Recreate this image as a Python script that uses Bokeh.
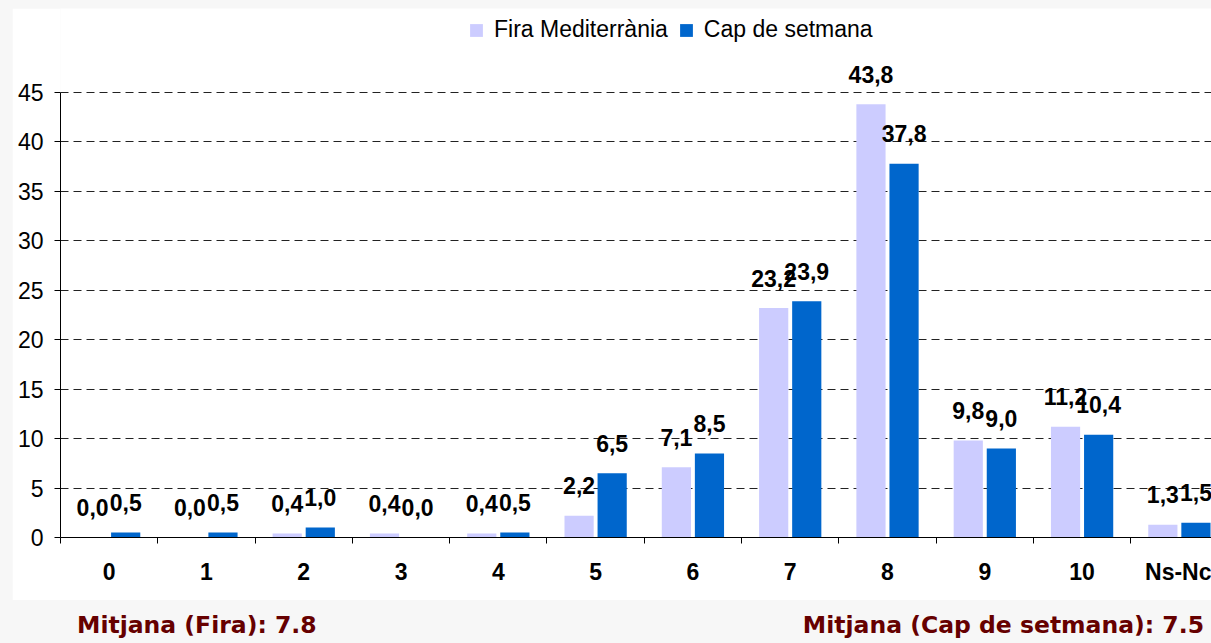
from bokeh.plotting import figure
from bokeh.models import (ColumnDataSource, Range1d, FixedTicker, Legend, LegendItem, Div)
from bokeh.layouts import column
from bokeh.transform import dodge
from bokeh.core.properties import value
from bokeh.embed import file_html
from bokeh.resources import INLINE

categories = ["0", "1", "2", "3", "4", "5", "6", "7", "8", "9", "10", "Ns-Nc"]
fira = [0.0, 0.0, 0.4, 0.4, 0.4, 2.2, 7.1, 23.2, 43.8, 9.8, 11.2, 1.3]
cap = [0.5, 0.5, 1.0, 0.0, 0.5, 6.5, 8.5, 23.9, 37.8, 9.0, 10.4, 1.5]
series_names = ["Fira Mediterrània", "Cap de setmana"]
y_ticks = [0, 5, 10, 15, 20, 25, 30, 35, 40, 45]
mean_fira = "7.8"
mean_cap = "7.5"

FIRA_COLOR = "#ccccff"
CAP_COLOR = "#0066cc"
FONT = "Liberation Sans"

idx = list(range(len(categories)))
src = ColumnDataSource(dict(
    x=idx,
    fira=fira,
    cap=cap,
    fira_lbl=[f"{v:.1f}".replace(".", ",") for v in fira],
    cap_lbl=[f"{v:.1f}".replace(".", ",") for v in cap],
))

p = figure(width=1199, height=592, output_backend="svg", toolbar_location=None,
           x_range=Range1d(-0.5, 11.33), y_range=Range1d(0, 53.49),
           min_border_left=48, min_border_right=0, min_border_top=0, min_border_bottom=63)
p.margin = (8, 0, 0, 12)
p.outline_line_color = None
p.background_fill_color = "white"
p.border_fill_color = "white"

off = 0.17
r1 = p.vbar(x=dodge("x", -off, range=p.x_range), top="fira", width=0.3, source=src,
            fill_color=FIRA_COLOR, line_color=None)
r2 = p.vbar(x=dodge("x", off, range=p.x_range), top="cap", width=0.3, source=src,
            fill_color=CAP_COLOR, line_color=None)

for col, o in (("fira_lbl", -off), ("cap_lbl", off)):
    p.text(x=dodge("x", o, range=p.x_range), y=col.replace("_lbl", ""), text=col, source=src,
           text_align="center", text_baseline="alphabetic", y_offset=-30,
           text_font=value(FONT), text_font_style="bold", text_font_size="23px",
           text_color="black")

# x axis
xa = p.xaxis[0]
xa.ticker = FixedTicker(ticks=idx, minor_ticks=[i - 0.5 for i in range(len(categories) + 1)])
xa.major_label_overrides = {i: c for i, c in enumerate(categories)}
xa.major_tick_out = 0
xa.major_tick_in = 0
xa.minor_tick_out = 6
xa.minor_tick_in = 0
xa.minor_tick_line_color = "black"
xa.axis_line_color = "black"
xa.major_label_text_font = FONT
xa.major_label_text_font_style = "bold"
xa.major_label_text_font_size = "23px"
xa.major_label_text_color = "black"
xa.major_label_standoff = 15

# y axis
ya = p.yaxis[0]
ya.ticker = FixedTicker(ticks=y_ticks)
ya.bounds = (0, 45)
ya.major_tick_out = 6
ya.major_tick_in = 0
ya.minor_tick_line_color = None
ya.axis_line_color = "black"
ya.major_tick_line_color = "black"
ya.major_label_text_font = FONT
ya.major_label_text_font_size = "23px"
ya.major_label_text_color = "black"
ya.major_label_standoff = 11

p.xgrid.grid_line_color = None
p.ygrid.ticker = FixedTicker(ticks=y_ticks[1:])
p.ygrid.grid_line_color = "#222222"
p.ygrid.grid_line_dash = "8 5"
p.ygrid.grid_line_width = 1

legend = Legend(items=[LegendItem(label=series_names[0], renderers=[r1]),
                       LegendItem(label=series_names[1], renderers=[r2])],
                orientation="horizontal", location=(408, 494),
                glyph_width=16, glyph_height=16, label_standoff=10, spacing=10,
                padding=0, margin=0, border_line_color=None, background_fill_alpha=0,
                label_text_font=FONT, label_text_font_size="23px", label_text_color="black")
p.add_layout(legend, "center")

footer = Div(text=(
    '<div style="display:flex;justify-content:space-between;width:1211px;'
    'font-family:\'DejaVu Sans\';font-weight:bold;font-size:23.5px;color:#660000;'
    'padding-top:4px;box-sizing:border-box;">'
    f'<span style="margin-left:72px;">Mitjana (Fira): {mean_fira}</span>'
    f'<span style="margin-right:12px;">Mitjana (Cap de setmana): {mean_cap}</span>'
    '</div>'), width=1211, height=43)

layout = column(p, footer, styles={"background-color": "#f7f7f7"}, spacing=0)

open("out.html", "w").write(file_html(layout, INLINE))
